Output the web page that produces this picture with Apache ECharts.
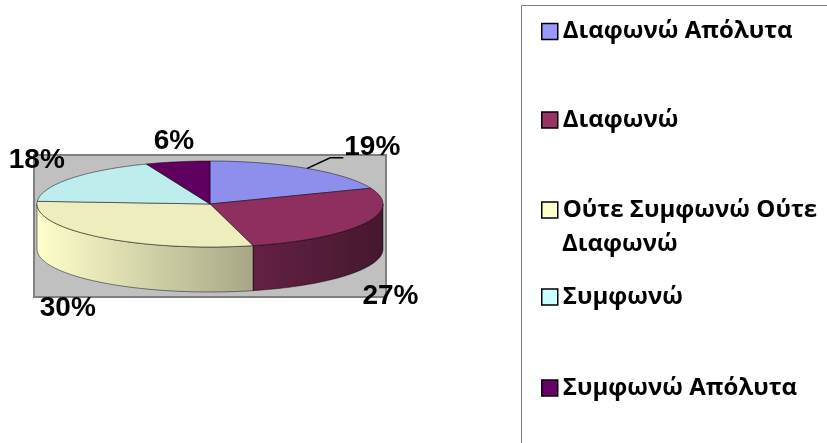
<!DOCTYPE html>
<html>
<head>
<meta charset="utf-8">
<script src="https://cdn.jsdelivr.net/npm/echarts@6/dist/echarts.min.js"></script>
<style>
  html, body { margin: 0; padding: 0; background: #fff; }
  #main { width: 827px; height: 443px; }
</style>
</head>
<body>
<div id="main"></div>
<script>
// κατηγορίες και ποσοστά
const categories = ['Διαφωνώ Απόλυτα', 'Διαφωνώ', 'Ούτε Συμφωνώ Ούτε Διαφωνώ', 'Συμφωνώ', 'Συμφωνώ Απόλυτα'];
const values = [19, 27, 30, 18, 6];
// γραμμές υπομνήματος (η τρίτη σπάει σε δύο)
const legendLines = [['Διαφωνώ Απόλυτα'], ['Διαφωνώ'], ['Ούτε Συμφωνώ Ούτε', 'Διαφωνώ'], ['Συμφωνώ'], ['Συμφωνώ Απόλυτα']];

// χρώματα (στυλ)
const colors = ['#9999FF', '#993366', '#FFFFCC', '#CCFFFF', '#660066'];

// γεωμετρία της 3D πίτας
const cx = 210, cy = 204, rx = 173, ry = 43, depth = 45;
// μετατόπιση ετικετών
const labelNudge = [[51, 0], [4, 16], [-16, 7], [-13, -4], [1, 4]];
const legendY = [31.5, 120, 210, 297, 388];
const legendFont = '"Open Sans", "Noto Sans", sans-serif';
const legendSize = 24;

function shade(hex, f) {
  const n = parseInt(hex.slice(1), 16);
  const r = Math.round(((n >> 16) & 255) * f);
  const g = Math.round(((n >> 8) & 255) * f);
  const b = Math.round((n & 255) * f);
  return 'rgb(' + r + ',' + g + ',' + b + ')';
}
function pt(t, dy) {
  return [cx + rx * Math.sin(t), cy - ry * Math.cos(t) + (dy || 0)];
}
function arc(a, b, dy) {
  const pts = [];
  const n = Math.max(2, Math.ceil((b - a) / (Math.PI / 180)));
  for (let k = 0; k <= n; k++) pts.push(pt(a + (b - a) * k / n, dy));
  return pts;
}
function sideFactor(x) {
  return 1 - 0.55 * (x - (cx - rx)) / (2 * rx);
}

const total = values.reduce((s, v) => s + v, 0);

function renderSlice(params, api) {
  const i = params.seriesIndex;
  let before = 0;
  for (let k = 0; k < i; k++) before += values[k];
  const t0 = before / total * Math.PI * 2;
  const t1 = (before + api.value(0)) / total * Math.PI * 2;
  const children = [];

  // πλευρά (μόνο το μπροστινό μισό)
  const s0 = Math.max(t0, Math.PI / 2), s1 = Math.min(t1, Math.PI * 1.5);
  if (s1 > s0) {
    const top = arc(s0, s1, 0);
    const bottom = arc(s0, s1, depth).reverse();
    const xa = pt(s0)[0], xb = pt(s1)[0];
    const xl = Math.min(xa, xb), xr = Math.max(xa, xb);
    children.push({
      type: 'polygon',
      shape: { points: top.concat(bottom) },
      style: {
        fill: new echarts.graphic.LinearGradient(xl, 0, xr, 0, [
          { offset: 0, color: shade(colors[i], sideFactor(xl)) },
          { offset: 1, color: shade(colors[i], sideFactor(xr)) }
        ], true),
        stroke: 'rgba(0,0,0,0.6)',
        lineWidth: 0.8
      }
    });
  }

  // πάνω επιφάνεια
  children.push({
    type: 'polygon',
    shape: { points: [[cx, cy]].concat(arc(t0, t1, 0)) },
    style: { fill: shade(colors[i], 0.93), stroke: 'rgba(0,0,0,0.6)', lineWidth: 0.8 }
  });

  // ετικέτα
  const m = (t0 + t1) / 2;
  const lx = cx + (rx + 25) * Math.sin(m) + labelNudge[i][0];
  const ly = cy - (ry + 25) * Math.cos(m) + (Math.cos(m) < 0 ? depth : 0) + labelNudge[i][1];
  if (labelNudge[i][0] > 30) {
    const p0 = pt(m);
    children.push({
      type: 'polyline',
      shape: { points: [p0, [p0[0] + 23, ly + 10], [lx - 29, ly + 10]] },
      style: { stroke: '#000', lineWidth: 1.5, fill: null }
    });
  }
  children.push({
    type: 'text',
    x: lx, y: ly,
    style: {
      text: Math.round(api.value(0) / total * 100) + '%',
      font: 'bold 28px "Liberation Sans", Arial, sans-serif',
      fill: '#000',
      align: 'center',
      verticalAlign: 'middle'
    }
  });
  return { type: 'group', children: children };
}

const series = categories.map((name, i) => ({
  name: name,
  type: 'custom',
  coordinateSystem: 'none',
  renderItem: renderSlice,
  itemStyle: { color: colors[i] },
  data: [values[i]]
}));

const legends = categories.map((name, i) => ({
  data: [name],
  left: 541,
  top: legendY[i] - 16.5,
  padding: 0,
  icon: 'rect',
  itemWidth: 16,
  itemHeight: 16,
  itemGap: 0,
  selectedMode: false,
  itemStyle: { color: colors[i], borderColor: '#000', borderWidth: 1.5 },
  formatter: () => legendLines[i][0],
  textStyle: {
    fontFamily: legendFont,
    fontWeight: 'bold',
    fontSize: legendSize,
    color: '#000',
    lineHeight: 33
  }
}));

// δεύτερες γραμμές υπομνήματος
const extraLines = [];
legendLines.forEach((lines, i) => {
  lines.slice(1).forEach((txt, k) => {
    extraLines.push({
      type: 'text', silent: true, z: 10,
      x: 562, y: legendY[i] + 34 * (k + 1),
      style: {
        text: txt,
        font: 'bold ' + legendSize + 'px ' + legendFont,
        fill: '#000',
        verticalAlign: 'middle'
      }
    });
  });
});

const myChart = echarts.init(document.getElementById('main'));
myChart.setOption({
  animation: false,
  tooltip: { show: false },
  graphic: [
    {
      type: 'rect', z: -10, silent: true,
      shape: { x: 34, y: 155, width: 352, height: 142 },
      style: { fill: '#C0C0C0', stroke: '#808080', lineWidth: 2 }
    },
    {
      type: 'rect', z: -10, silent: true,
      shape: { x: 521.5, y: 5.5, width: 400, height: 500 },
      style: { fill: '#fff', stroke: '#7F7F7F', lineWidth: 1 }
    }
  ].concat(extraLines),
  legend: legends,
  series: series
});
window.addEventListener('resize', () => {
  myChart.resize();
});
</script>
</body>
</html>
